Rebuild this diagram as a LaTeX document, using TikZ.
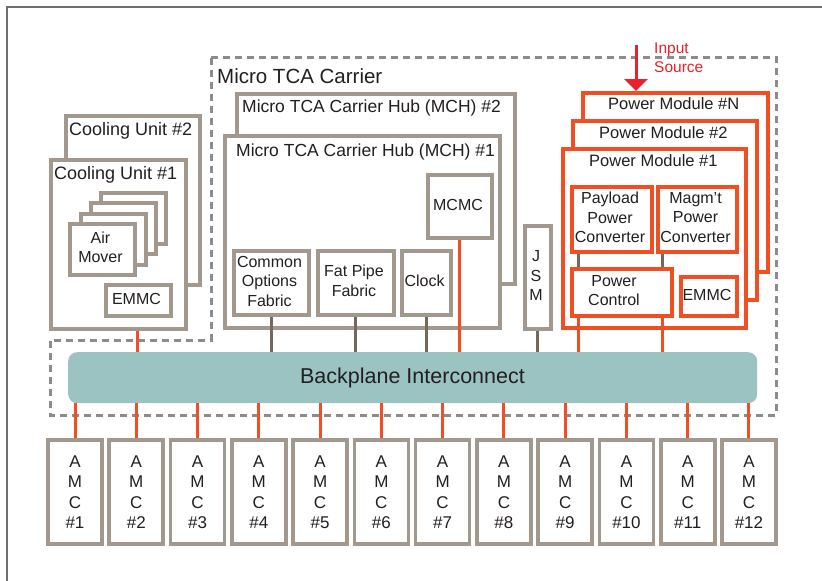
\documentclass[tikz,border=0pt]{standalone}
\usepackage{fontspec}
\setmainfont{Liberation Sans}
\usetikzlibrary{arrows.meta}
\definecolor{boxgray}{HTML}{A2988D}
\definecolor{linkbrown}{HTML}{74685C}
\definecolor{pwrred}{HTML}{F04E23}
\definecolor{inred}{HTML}{E8212B}
\definecolor{dashgray}{HTML}{8C8C8C}
\definecolor{bpteal}{HTML}{9BC3C1}
\definecolor{txt}{HTML}{231F20}
\definecolor{framegray}{HTML}{6E6E6E}
\begin{document}
\begin{tikzpicture}[x=1pt,y=-1pt,
  every node/.style={text=txt},
  gbox/.style={draw=boxgray, line width=3.6pt, fill=white, inner sep=0pt, anchor=north west},
  rbox/.style={draw=pwrred, line width=3.8pt, fill=white, inner sep=0pt, anchor=north west},
  lbl/.style={font=\fontsize{16}{19.5}\selectfont, align=center, inner sep=0pt},
  title/.style={font=\fontsize{17.5}{21}\selectfont, anchor=base west, inner sep=0pt},
  amc/.style={draw=boxgray, line width=3.6pt, fill=white, inner sep=0pt, minimum width=54pt, minimum height=104pt, align=center, font=\fontsize{17}{20.5}\selectfont},
  graylink/.style={draw=linkbrown, line width=3pt},
  redlink/.style={draw=pwrred, line width=3pt},
]
\useasboundingbox (0,0) rectangle (822,581);
% frame
\draw[framegray, line width=1.1pt] (7,581) -- (7,7) -- (822,7);
% carrier outline
\draw[dashgray, line width=3pt, dash pattern=on 7pt off 5pt]
  (211,57) -- (776,57) -- (776,415) -- (50,415) -- (50,340) -- (211,340) -- cycle;
\node[font=\fontsize{20.5}{24}\selectfont, anchor=base west, inner sep=0pt] (carrier) at (217,83) {Micro TCA Carrier};

% cooling units
\node[gbox, minimum width=134pt, minimum height=169pt] (cu2) at (64,114) {};
\node[title, font=\fontsize{18}{21}\selectfont] (cu2t) at (69,135) {Cooling Unit \#2};
\node[gbox, minimum width=135pt, minimum height=169pt] (cu1) at (49,158) {};
\node[title, font=\fontsize{18}{21}\selectfont] (cu1t) at (54,179) {Cooling Unit \#1};
\node[gbox, minimum width=65pt, minimum height=51pt] (air4) at (99,191) {};
\node[gbox, minimum width=65pt, minimum height=51pt] (air3) at (89,201) {};
\node[gbox, minimum width=65pt, minimum height=51pt] (air2) at (79,212) {};
\node[gbox, minimum width=65pt, minimum height=51pt] (air1) at (68,222) {};
\node[lbl] (airt) at (100.5,247.5) {Air\\Mover};
\node[gbox, minimum width=65pt, minimum height=31pt] (emmc1) at (104,283) {};
\node[lbl] (emmc1t) at (136.5,298.5) {EMMC};

% MCH
\node[gbox, minimum width=278pt, minimum height=190pt] (mch2) at (235,92) {};
\node[title] (mch2t) at (242,112) {Micro TCA Carrier Hub (MCH) \#2};
\node[gbox, minimum width=275pt, minimum height=192pt] (mch1) at (223,134) {};
\node[title] (mch1t) at (236,156) {Micro TCA Carrier Hub (MCH) \#1};
\node[gbox, minimum width=64pt, minimum height=63pt] (mcmc) at (426,173) {};
\node[lbl] (mcmct) at (458,204.5) {MCMC};
\node[gbox, minimum width=75pt, minimum height=64pt] (cof) at (232,249) {};
\node[lbl] (coft) at (269.5,281) {Common\\Options\\Fabric};
\node[gbox, minimum width=76pt, minimum height=64pt] (fpf) at (316,249) {};
\node[lbl] (fpft) at (354,281) {Fat Pipe\\Fabric};
\node[gbox, minimum width=49pt, minimum height=64pt] (clk) at (400,249) {};
\node[lbl] (clkt) at (424.5,281) {Clock};
\node[gbox, minimum width=26pt, minimum height=103pt] (jsm) at (523,224) {};
\node[lbl] (jsmt) at (536,275.5) {J\\S\\M};

% power modules
\node[rbox, minimum width=185pt, minimum height=179pt] (pmN) at (581,91) {};
\node[title, font=\fontsize{16.5}{20}\selectfont] (pmNt) at (608,109) {Power Module \#N};
\node[rbox, minimum width=184pt, minimum height=179pt] (pm2) at (571,119) {};
\node[title, font=\fontsize{16.5}{20}\selectfont] (pm2t) at (599,138) {Power Module \#2};
\node[rbox, minimum width=183pt, minimum height=179pt] (pm1) at (561,147) {};
\node[title, font=\fontsize{16.5}{20}\selectfont] (pm1t) at (589,166) {Power Module \#1};
\node[rbox, minimum width=80pt, minimum height=65pt] (ppc) at (570,185) {};
\node[lbl] (ppct) at (610,217.5) {Payload\\Power\\Converter};
\node[rbox, minimum width=79pt, minimum height=65pt] (mpc) at (656,185) {};
\node[lbl] (mpct) at (695.5,217.5) {Magm’t\\Power\\Converter};
\node[rbox, minimum width=100pt, minimum height=47pt] (pctl) at (570,267) {};
\node[lbl] (pctlt) at (614,290.5) {Power\\Control};
\node[rbox, minimum width=56pt, minimum height=39pt] (emmc2) at (679,275) {};
\node[lbl] (emmc2t) at (707,294.5) {EMMC};

% input source
\coordinate (insrc) at (636,45);
\draw[inred, line width=3pt, -{Triangle[width=23pt,length=12pt]}] (insrc) -- (pmN.north -| insrc);
\node[font=\fontsize{15.5}{19}\selectfont, text=inred, anchor=base west, inner sep=0pt] (in1) at (654,53) {Input};
\node[font=\fontsize{15.5}{19}\selectfont, text=inred, anchor=base west, inner sep=0pt] (in2) at (654,72) {Source};

% backplane
\node[fill=bpteal, rounded corners=9pt, minimum width=689pt, minimum height=51pt, inner sep=0pt, anchor=north west] (bp) at (68,352) {};
\node[font=\fontsize{21.5}{25}\selectfont, anchor=base, inner sep=0pt] (bpt) at (412.5,383) {Backplane Interconnect};

% connectors to backplane
\draw[redlink] (cu1.south -| 137,0) -- (bp.north -| 137,0);
\draw[graylink] (cof.south) -- (cof.south |- bp.north);
\draw[graylink] (fpf.south) -- (fpf.south |- bp.north);
\draw[graylink] (clk.south) -- (clk.south |- bp.north);
\draw[redlink] (mcmc.south) -- (mcmc.south |- bp.north);
\draw[graylink] (jsm.south) -- (jsm.south |- bp.north);
\draw[graylink] (ppc.south -| 578,0) -- (pctl.north -| 578,0);
\draw[graylink] (mpc.south -| 662,0) -- (pctl.north -| 662,0);
\draw[redlink] (pctl.south -| 578,0) -- (bp.north -| 578,0);
\draw[redlink] (pctl.south -| 662,0) -- (bp.north -| 662,0);

% AMCs
\foreach \i in {1,...,12} {
  \node[amc] (amc\i) at ({75+(\i-1)*61.27},492) {A\\M\\C\\\#\i};
  \draw[redlink] (amc\i.north |- bp.south) -- (amc\i.north);
}
\end{tikzpicture}
\end{document}
